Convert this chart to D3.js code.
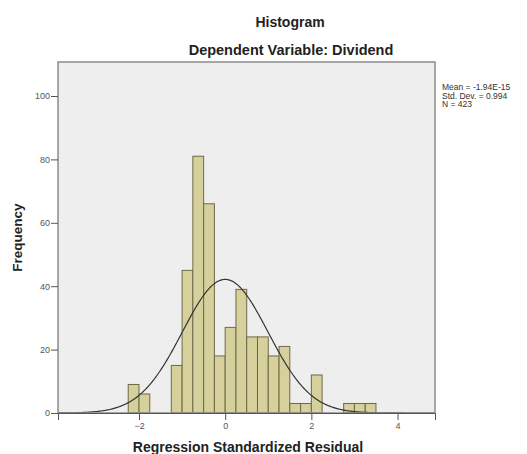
<!DOCTYPE html>
<html>
<head>
<meta charset="utf-8">
<script src="https://cdn.jsdelivr.net/npm/d3@7"></script>
<style>
  body { margin: 0; background: #fff; }
  text { font-family: Arial, "Liberation Sans", sans-serif; }
</style>
</head>
<body>
<div id="chart"></div>
<script>
// histogram of residuals, bins of 0.25
const binStarts = [-2.25, -2.0, -1.25, -1.0, -0.75, -0.5, -0.25, 0, 0.25, 0.5, 0.75, 1.0, 1.25, 1.5, 1.75, 2.0, 2.75, 3.0, 3.25]
const counts = [9, 6, 15, 45, 81, 66, 18, 27, 39, 24, 24, 18, 21, 3, 3, 12, 3, 3, 3]
const binWidth = 0.25
const xTicks = [-2, 0, 2, 4]
const yTicks = [0, 20, 40, 60, 80, 100]
const statLines = ['Mean = -1.94E-15', 'Std. Dev. = 0.994', 'N = 423']
const mean = 0
const sd = 0.994
const n = 420

const W = 527, H = 454
const margin = { top: 62, right: 92, bottom: 41, left: 58 }
const width = W - margin.left - margin.right
const height = H - margin.top - margin.bottom

const svg = d3.select('#chart').append('svg')
  .attr('width', W)
  .attr('height', H)

svg.append('text')
  .attr('x', 290).attr('y', 27)
  .attr('text-anchor', 'middle')
  .attr('font-size', 14).attr('font-weight', 'bold').attr('fill', '#222')
  .text('Histogram')
svg.append('text')
  .attr('x', 291).attr('y', 55)
  .attr('text-anchor', 'middle')
  .attr('font-size', 14.5).attr('font-weight', 'bold').attr('fill', '#222')
  .text('Dependent Variable: Dividend')

const g = svg.append('g')
  .attr('transform', `translate(${margin.left}, ${margin.top})`)

const x = d3.scaleLinear().domain([-3.88, 4.87]).range([0, width])
const y = d3.scaleLinear().domain([0, 110]).range([height, height - 110 * 3.17])

g.append('rect')
  .attr('width', width).attr('height', height)
  .attr('fill', '#eeeeee')

// bars
g.selectAll('rect.bar')
  .data(binStarts.map((s, i) => ({ s, c: counts[i] })))
  .enter().append('rect')
    .attr('class', 'bar')
    .attr('x', d => x(d.s))
    .attr('y', d => y(d.c))
    .attr('width', x(binWidth) - x(0))
    .attr('height', d => y(0) - y(d.c))
    .attr('fill', '#d5d09c')
    .attr('stroke', '#6e6a45')
    .attr('stroke-width', 1)

// fitted normal curve
const curve = d3.range(-3.88, 4.87, 0.02).map(v => [v,
  n * binWidth / (sd * Math.sqrt(2 * Math.PI)) * Math.exp(-0.5 * ((v - mean) / sd) ** 2)])
g.append('path')
  .datum(curve)
  .attr('fill', 'none')
  .attr('stroke', '#333')
  .attr('stroke-width', 1.2)
  .attr('d', d3.line().x(d => x(d[0])).y(d => y(d[1])))

// frame
g.append('rect')
  .attr('width', width).attr('height', height)
  .attr('fill', 'none')
  .attr('stroke', '#8c8c8c')
  .attr('stroke-width', 1.5)

const yAxis = g.append('g')
  .call(d3.axisLeft(y).tickValues(yTicks).tickSize(7).tickPadding(1))
yAxis.select('.domain').remove()
yAxis.selectAll('line').attr('stroke', '#555')
yAxis.selectAll('text').attr('font-size', 9).attr('fill', '#555')

const xAxis = g.append('g')
  .attr('transform', `translate(0, ${height})`)
  .call(d3.axisBottom(x).tickValues(xTicks).tickSize(7).tickPadding(3))
xAxis.select('.domain').attr('stroke', '#555')
xAxis.selectAll('line').attr('stroke', '#555')
xAxis.selectAll('text').attr('font-size', 9).attr('fill', '#555')

svg.append('text')
  .attr('transform', `translate(22, ${margin.top + height / 2}) rotate(-90)`)
  .attr('text-anchor', 'middle')
  .attr('font-size', 13.5).attr('font-weight', 'bold').attr('fill', '#222')
  .text('Frequency')

svg.append('text')
  .attr('x', 248).attr('y', 452)
  .attr('text-anchor', 'middle')
  .attr('font-size', 14).attr('font-weight', 'bold').attr('fill', '#222')
  .text('Regression Standardized Residual')

svg.append('g').selectAll('text')
  .data(statLines)
  .enter().append('text')
    .attr('x', 442)
    .attr('y', (d, i) => 90 + i * 8.5)
    .attr('font-size', 8.5)
    .attr('fill', '#333')
    .text(d => d)
</script>
</body>
</html>
